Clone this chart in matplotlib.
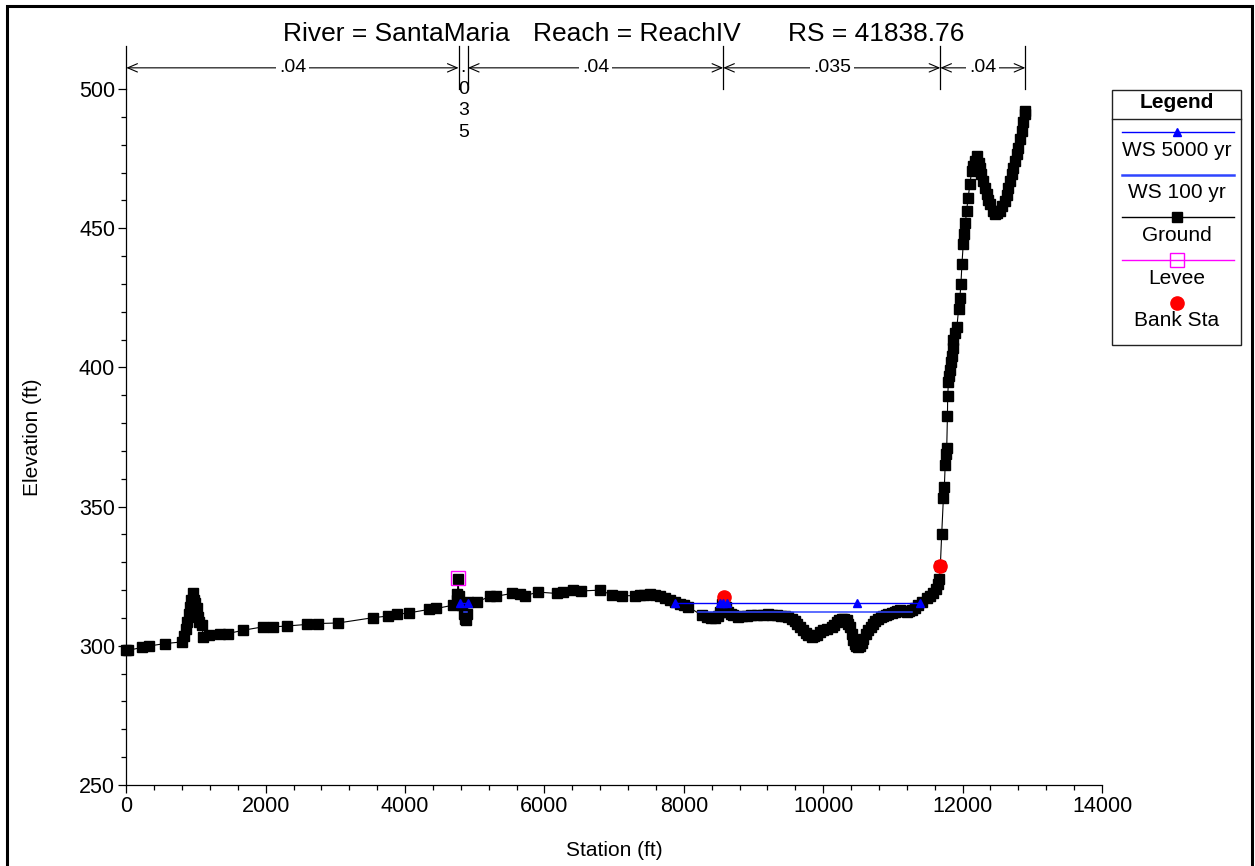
import matplotlib
matplotlib.use("Agg")
import matplotlib.pyplot as plt
from matplotlib.lines import Line2D
from matplotlib.patches import Rectangle
from matplotlib.ticker import MultipleLocator

plt.rcParams['font.family'] = ['Liberation Sans', 'DejaVu Sans']

# ---------------- data ----------------
river = "SantaMaria"
reach = "ReachIV"
rs = "41838.76"

# ground profile (station ft, elevation ft)
ground_sta = [
    0, 30, 220, 320, 555, 800,
    830, 850, 870, 895, 915, 935, 955, 975, 990, 1010, 1030, 1050, 1080, 1105,
    1180, 1340, 1460, 1680, 1960, 2110, 2300, 2590, 2750, 3040,
    3540, 3760, 3880, 4050, 4350, 4450, 4690,
    4740, 4750, 4760, 4775, 4790, 4810, 4840, 4855, 4870, 4885, 4905,
    5030, 5220, 5310, 5530, 5650, 5720, 5910, 6175, 6270, 6410, 6530, 6800,
    6970, 7110, 7300, 7370, 7430, 7514, 7580, 7657, 7730, 7800, 7870, 7944,
    8000, 8063, 8255, 8327, 8390, 8446, 8490, 8518, 8542, 8570, 8604, 8637,
    8680, 8709, 8781, 8840, 8901, 8970, 9045, 9130, 9211, 9270, 9332, 9400,
    9451, 9500, 9547, 9590, 9619, 9665, 9713, 9750, 9785, 9833, 9870, 9905,
    9950, 10000, 10060, 10120, 10160, 10192, 10230, 10264, 10300, 10336,
    10360, 10383, 10410, 10431, 10450, 10469, 10500, 10526, 10550, 10574,
    10610, 10646, 10680, 10717, 10750, 10789, 10825, 10861, 10900, 10933,
    10980, 11029, 11065, 11101, 11150, 11197, 11230, 11268, 11320, 11363,
    11420, 11484, 11530, 11578, 11620, 11650, 11665, 11680,
    11700, 11724, 11738, 11750, 11758, 11772, 11782, 11786, 11796, 11808,
    11821, 11833, 11845, 11857, 11869, 11895, 11918, 11942, 11961, 11976,
    11990, 12009, 12023, 12040, 12057, 12080, 12105, 12129, 12150, 12176,
    12209, 12230, 12248, 12270, 12296, 12320, 12344, 12370, 12391, 12430,
    12463, 12500, 12535, 12570, 12607, 12630, 12654, 12680, 12702, 12725,
    12750, 12775, 12797, 12820, 12845, 12870, 12894, 12900,
]
ground_elev = [
    298.5, 298.4, 299.4, 299.9, 300.8, 301.4,
    303.5, 306.0, 308.5, 311.5, 314.0, 316.5, 318.8, 316.5, 315.5, 313.5, 310.5, 308.5, 307.5, 303.2,
    303.8, 304.2, 304.4, 305.6, 306.8, 306.8, 307.1, 307.7, 308.0, 308.2,
    310.1, 310.7, 311.3, 311.8, 313.1, 313.4, 314.6,
    316.5, 318.5, 324.0, 318.0, 315.5, 314.5, 311.5, 309.5, 309.2, 311.5, 315.7,
    315.7, 317.8, 317.8, 318.8, 318.5, 318.0, 319.3, 318.8, 319.3, 320.2, 319.7, 320.0,
    318.2, 318.0, 318.0, 318.4, 318.4, 318.5, 318.3, 318.0, 317.2, 316.4, 315.7, 315.0,
    314.6, 314.0, 311.0, 310.4, 310.0, 309.9, 310.8, 312.2, 315.0, 317.2, 314.0, 312.2,
    311.3, 311.0, 310.5, 310.6, 310.7, 310.9, 311.0, 311.2, 311.3, 311.2, 311.0, 310.8,
    310.6, 310.2, 309.7, 308.8, 308.0, 306.8, 305.6, 304.6, 303.8, 303.0, 303.4, 303.8,
    304.8, 305.6, 306.0, 306.6, 307.6, 308.6, 309.4, 309.8, 309.8, 309.2,
    308.0, 306.8, 304.2, 302.0, 300.5, 299.8, 299.6, 299.8, 301.0, 302.6,
    304.2, 305.6, 306.9, 308.0, 309.0, 309.8, 310.3, 310.6, 311.0, 311.3,
    311.8, 312.2, 312.6, 312.8, 312.5, 312.2, 312.4, 312.8, 313.6, 314.6,
    315.8, 317.0, 317.8, 318.8, 320.3, 322.3, 324.0, 328.5,
    340.2, 353.0, 357.2, 365.0, 369.0, 370.9, 382.5, 389.7, 394.6, 397.0,
    399.1, 402.0, 404.2, 407.0, 410.0, 412.5, 414.5, 420.9, 425.1, 430.0,
    437.0, 444.3, 447.9, 452.0, 456.2, 461.0, 465.8, 470.6, 472.5, 474.2,
    476.0, 473.5, 471.8, 469.5, 467.0, 464.5, 462.2, 460.2, 458.6, 456.3,
    455.2, 455.3, 456.2, 458.0, 459.8, 462.0, 464.6, 467.0, 469.3, 471.8,
    474.2, 476.5, 478.9, 482.0, 485.0, 488.0, 490.9, 492.0,
]

# water surfaces
ws5000_elev = 315.2
ws5000_segments = [[4790, 4905], [7880, 8520, 8565, 8620, 10490, 11390]]
ws100_elev = 312.2
ws100_segments = [[4840, 4890], [8200, 11280]]

# levee and bank stations
levee_sta, levee_elev = [4760], [324.2]
bank_sta, bank_elev = [8570, 11680], [317.6, 328.5]

# Manning's n regions
n_bounds = [0, 4768, 4902, 8565, 11680, 12900]
n_values = [".04", ".035", ".04", ".035", ".04"]

# ---------------- figure ----------------
W, H = 1255, 866
fig = plt.figure(figsize=(W / 100, H / 100), dpi=100)


def fx(px):
    return px / W


def fy(py):
    return 1 - py / H


ax = fig.add_axes([fx(126.3), fy(785), fx(1102) - fx(126.3), fy(89) - fy(785)])
ax.set_xlim(0, 14000)
ax.set_ylim(250, 500)
for s in ("top", "right"):
    ax.spines[s].set_visible(False)
for s in ("left", "bottom"):
    ax.spines[s].set_linewidth(0.9)
ax.xaxis.set_major_locator(MultipleLocator(2000))
ax.xaxis.set_minor_locator(MultipleLocator(400))
ax.yaxis.set_major_locator(MultipleLocator(50))
ax.yaxis.set_minor_locator(MultipleLocator(10))
ax.tick_params(which="major", direction="out", length=6, width=0.9, labelsize=15.5, pad=2)
ax.tick_params(which="minor", direction="out", length=3.6, width=0.9)

# ground
ax.plot(ground_sta, ground_elev, color="black", lw=0.8, marker="s", ms=6.8,
        mfc="black", mec="black", zorder=3, clip_on=False)

# bank stations
ax.plot(bank_sta, bank_elev, ls="none", marker="o", ms=9.5, color="red", zorder=4)

# water surfaces
for seg in ws100_segments:
    ax.plot(seg, [ws100_elev] * len(seg), color="#2f45ff", lw=1.1, zorder=5)
for seg in ws5000_segments:
    ax.plot(seg, [ws5000_elev] * len(seg), color="#0000ff", lw=1.0,
            marker="^", ms=6.3, zorder=5)

# levee
ax.plot(levee_sta, levee_elev, ls="none", marker="s", ms=9.5, mfc="none",
        mec="#ff00ff", mew=1.0, zorder=6)

# Manning's n dimension lines above the plot
y_top, y_arrow, y_bot = 515.3, 507.6, 500.0
for b in n_bounds:
    ax.plot([b, b], [y_bot, y_top], color="black", lw=0.9, clip_on=False, zorder=2)
for (a, b), nv in zip(zip(n_bounds[:-1], n_bounds[1:]), n_values):
    mid = 0.5 * (a + b)
    if b - a > 500:
        ax.annotate("", xy=(a, y_arrow), xytext=(b, y_arrow),
                    arrowprops=dict(arrowstyle="<->,head_length=0.7,head_width=0.3",
                                    color="black", lw=0.8, shrinkA=0, shrinkB=0),
                    annotation_clip=False)
        ax.text(mid, y_arrow, nv, ha="center", va="center", fontsize=14,
                bbox=dict(boxstyle="square,pad=0.15", fc="white", ec="none"),
                clip_on=False, zorder=3)
    else:
        for i, ch in enumerate(nv):
            ax.text(mid, y_arrow - i * 7.7, ch, ha="center", va="center",
                    fontsize=14, clip_on=False)

# titles and axis labels
fig.text(fx(283), fy(34), f"River = {river}", fontsize=19, ha="left", va="center")
fig.text(fx(533), fy(34), f"Reach = {reach}", fontsize=19, ha="left", va="center")
fig.text(fx(788), fy(34), f"RS = {rs}", fontsize=19, ha="left", va="center")
fig.text(fx(614), fy(851), "Station (ft)", fontsize=15, ha="center", va="center")
fig.text(fx(33), fy(437), "Elevation (ft)", fontsize=15, ha="center", va="center",
         rotation=90)

# legend box
lx0, lx1, ly0, ly1 = 1112, 1241, 90, 345
fig.add_artist(Rectangle((fx(lx0), fy(ly1)), fx(lx1) - fx(lx0), fy(ly0) - fy(ly1),
                         transform=fig.transFigure, fill=False, ec="#222222", lw=1.0))
fig.add_artist(Line2D([fx(lx0), fx(lx1)], [fy(119), fy(119)], transform=fig.transFigure,
                      color="#222222", lw=1.0))
cx = 0.5 * (lx0 + lx1)
fig.text(fx(cx), fy(103), "Legend", fontsize=15, fontweight="bold", ha="center", va="center")
entries = [
    ("WS 5000 yr", 132, 151, dict(color="#0000ff", lw=1.0), dict(marker="^", ms=6.3, color="#0000ff")),
    ("WS 100 yr", 175, 193, dict(color="#2f45ff", lw=1.8), None),
    ("Ground", 217, 236, dict(color="black", lw=1.0), dict(marker="s", ms=6.8, color="black")),
    ("Levee", 260, 279, dict(color="#ff00ff", lw=1.0), dict(marker="s", ms=9.5, mfc="none", mec="#ff00ff", mew=1.0)),
    ("Bank Sta", 303, 321, None, dict(marker="o", ms=9.5, color="red")),
]
for label, yl, yt, lstyle, mstyle in entries:
    if lstyle is not None:
        fig.add_artist(Line2D([fx(1122), fx(1234)], [fy(yl), fy(yl)],
                              transform=fig.transFigure, **lstyle))
    if mstyle is not None:
        fig.add_artist(Line2D([fx(cx)], [fy(yl)], transform=fig.transFigure,
                              ls="none", **mstyle))
    fig.text(fx(cx), fy(yt), label, fontsize=15, ha="center", va="center")

# outer frame
fig.add_artist(Rectangle((fx(6.5), -0.05), fx(1251.5) - fx(6.5), fy(6.5) + 0.05,
                         transform=fig.transFigure, fill=False, ec="black", lw=2.2))

fig.savefig("out.png", dpi=100)
